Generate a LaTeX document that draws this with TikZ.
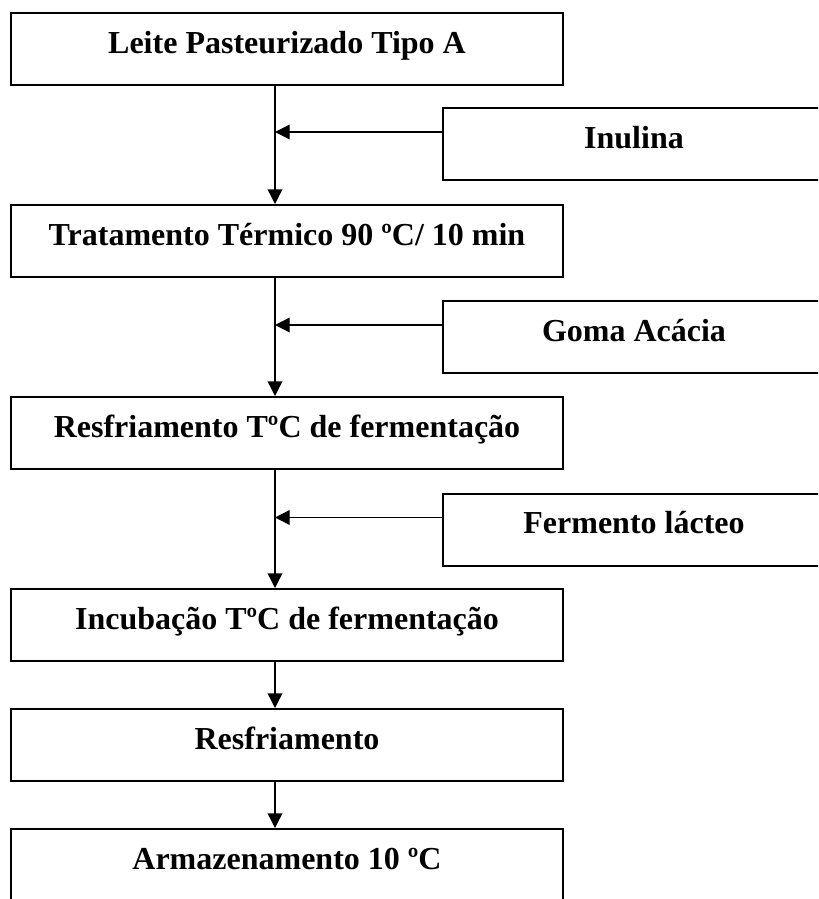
\documentclass[tikz,border=0pt]{standalone}
\usepackage{fontspec}
\setmainfont{Liberation Serif}
\usetikzlibrary{arrows.meta,calc}

\tikzset{
  etapa/.style={draw, line width=1.5pt, minimum width=414pt, minimum height=54pt,
    inner sep=0pt, text height=16.5pt, text depth=10pt,
    font=\bfseries\fontsize{24}{28}\selectfont},
  insumo/.style={etapa, minimum width=286.5pt},
  seta/.style={line width=1pt, -{Triangle[length=11pt,width=11pt]}}
}

\begin{document}
\begin{tikzpicture}[x=0.75pt,y=-0.75pt]
    \useasboundingbox (0,0) rectangle (818,899);
    \clip (0,0) rectangle (818,899);

    % etapas do processo
    \node[etapa] (leite) at (287,49) {Leite Pasteurizado Tipo A};
    \node[etapa] (tratamento) at (287,241) {Tratamento Térmico 90 ºC/ 10 min};
    \node[etapa] (resfriamentoT) at (287,433) {Resfriamento TºC de fermentação};
    \node[etapa] (incubacao) at (287,625) {Incubação TºC de fermentação};
    \node[etapa] (resfriamento) at (287,745) {Resfriamento};
    \node[etapa] (armazenamento) at (287,865) {Armazenamento 10 ºC};

    % ingredientes adicionados
    \node[insumo] (inulina) at (634,144) {Inulina};
    \node[insumo] (goma) at (634,337) {Goma Acácia};
    \node[insumo] (fermento) at (634,529.5) {Fermento lácteo};

    % eixo vertical do fluxo
    \coordinate (eixo) at (275,0);
    \draw[seta] (leite.south -| eixo) -- (tratamento.north -| eixo);
    \draw[seta] (tratamento.south -| eixo) -- (resfriamentoT.north -| eixo);
    \draw[seta] (resfriamentoT.south -| eixo) -- (incubacao.north -| eixo);
    \draw[seta] (incubacao.south -| eixo) -- (resfriamento.north -| eixo);
    \draw[seta] (resfriamento.south -| eixo) -- (armazenamento.north -| eixo);

    % entradas laterais
    \coordinate (inulinaIn) at ($(inulina.north west)+(0,25)$);
    \coordinate (gomaIn) at ($(goma.north west)+(0,25)$);
    \coordinate (fermentoIn) at ($(fermento.north west)+(0,25)$);
    \draw[seta] (inulinaIn) -- (inulinaIn -| eixo);
    \draw[seta] (gomaIn) -- (gomaIn -| eixo);
    \draw[seta] (fermentoIn) -- (fermentoIn -| eixo);
\end{tikzpicture}
\end{document}
